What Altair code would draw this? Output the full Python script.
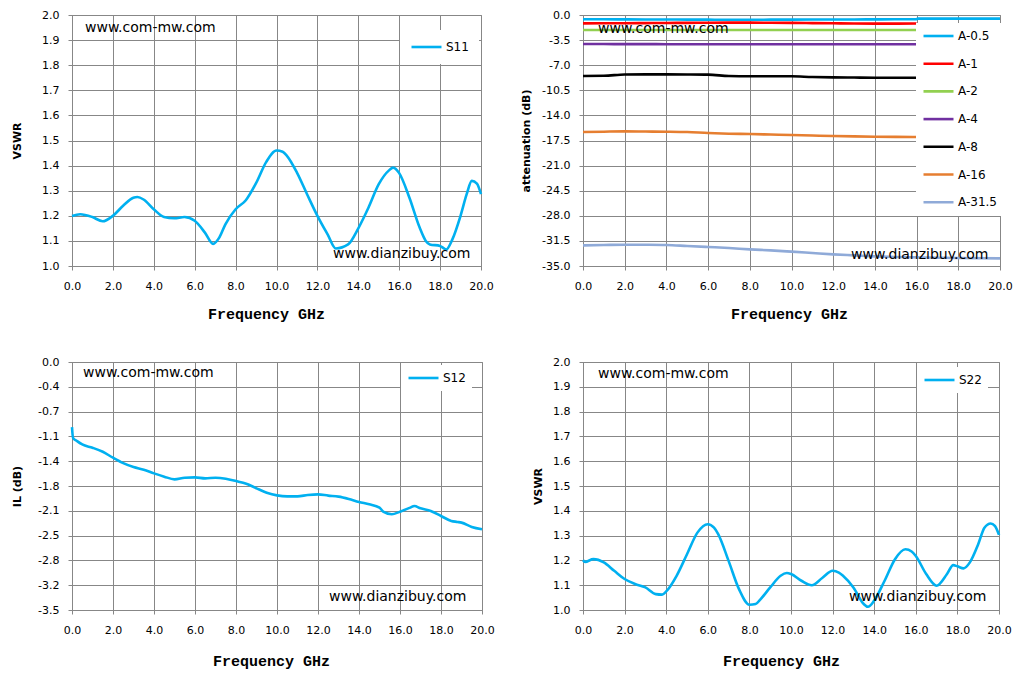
import json
import altair as alt
import pandas as pd

# ---------------- data ----------------
X_TICKS = [0, 2, 4, 6, 8, 10, 12, 14, 16, 18, 20]
VSWR_TICKS = [1.0, 1.1, 1.2, 1.3, 1.4, 1.5, 1.6, 1.7, 1.8, 1.9, 2.0]
ATT_TICKS = [0.0, -3.5, -7.0, -10.5, -14.0, -17.5, -21.0, -24.5, -28.0, -31.5, -35.0]
ATT_LABELS = ["0.0", "-3.5", "-7.0", "-10.5", "-14.0", "-17.5", "-21.0", "-24.5", "-28.0", "-31.5", "-35.0"]
IL_TICKS = [0.0, -0.35, -0.7, -1.05, -1.4, -1.75, -2.1, -2.45, -2.8, -3.15, -3.5]
IL_LABELS = ["0.0", "-0.4", "-0.7", "-1.1", "-1.4", "-1.8", "-2.1", "-2.5", "-2.8", "-3.2", "-3.5"]
WATERMARKS = ["www.com-mw.com", "www.dianzibuy.com"]

S11_FREQ = [0.0, 0.4, 1.0, 1.5, 2.0, 2.5, 3.0, 3.2, 3.5, 4.0, 4.5, 5.0, 5.5, 6.0, 6.5, 6.9, 7.2,
            7.5, 8.0, 8.5, 9.0, 9.5, 10.0, 10.3, 10.5, 11.0, 11.5, 12.0, 12.5, 12.9, 13.5, 14.0,
            14.5, 15.0, 15.5, 15.7, 16.0, 16.5, 17.0, 17.3, 17.5, 18.0, 18.3, 18.6, 19.0, 19.3,
            19.55, 19.8, 20.0]
S11_VSWR = [1.199, 1.206, 1.195, 1.178, 1.200, 1.240, 1.272, 1.275, 1.265, 1.226, 1.195, 1.190,
            1.195, 1.180, 1.133, 1.088, 1.113, 1.166, 1.226, 1.262, 1.330, 1.415, 1.460, 1.455,
            1.440, 1.372, 1.285, 1.200, 1.126, 1.070, 1.086, 1.150, 1.233, 1.326, 1.381, 1.392,
            1.370, 1.272, 1.153, 1.100, 1.086, 1.080, 1.066, 1.106, 1.200, 1.286, 1.339, 1.328,
            1.286]

S12_FREQ = [0.0, 0.05, 0.25, 0.5, 1.0, 1.5, 2.0, 2.5, 3.0, 3.5, 4.0, 4.5, 5.0, 5.5, 6.0, 6.5,
            7.0, 7.5, 8.0, 8.5, 9.0, 9.5, 10.0, 10.5, 11.0, 11.5, 12.0, 12.5, 13.0, 13.5, 14.0,
            14.5, 15.0, 15.2, 15.6, 16.0, 16.5, 16.7, 17.0, 17.5, 18.0, 18.5, 18.8, 19.0, 19.5,
            20.0]
S12_IL = [-0.92, -1.07, -1.117, -1.164, -1.21, -1.267, -1.351, -1.427, -1.483, -1.52, -1.572,
          -1.618, -1.656, -1.633, -1.628, -1.642, -1.633, -1.647, -1.68, -1.718, -1.783, -1.844,
          -1.882, -1.896, -1.896, -1.877, -1.868, -1.886, -1.90, -1.933, -1.976, -2.008, -2.055,
          -2.116, -2.149, -2.112, -2.055, -2.032, -2.065, -2.102, -2.173, -2.243, -2.257,
          -2.267, -2.328, -2.36]

S22_FREQ = [0.0, 0.1, 0.5, 1.0, 1.5, 2.0, 2.5, 3.0, 3.5, 3.8, 4.0, 4.5, 5.0, 5.5, 6.0, 6.3, 6.5,
            7.0, 7.5, 8.0, 8.3, 8.5, 9.0, 9.5, 9.8, 10.0, 10.5, 11.0, 11.5, 12.0, 12.3, 12.5,
            13.0, 13.5, 13.7, 14.0, 14.5, 15.0, 15.5, 15.8, 16.0, 16.5, 17.0, 17.5, 17.8, 18.0,
            18.3, 18.6, 19.0, 19.3, 19.6, 19.8, 20.0]
S22_VSWR = [1.201, 1.194, 1.205, 1.192, 1.158, 1.125, 1.105, 1.091, 1.064, 1.062, 1.075, 1.138,
            1.225, 1.312, 1.346, 1.332, 1.306, 1.198, 1.084, 1.021, 1.024, 1.040, 1.091, 1.138,
            1.149, 1.145, 1.118, 1.100, 1.129, 1.158, 1.151, 1.138, 1.091, 1.024, 1.013, 1.038,
            1.118, 1.205, 1.245, 1.236, 1.218, 1.145, 1.098, 1.145, 1.181, 1.176, 1.168, 1.192,
            1.265, 1.332, 1.349, 1.339, 1.303]

ATT_SERIES = ["A-0.5", "A-1", "A-2", "A-4", "A-8", "A-16", "A-31.5"]
ATT_COLORS = ["#00B0F0", "#FF0000", "#92D050", "#7030A0", "#000000", "#E67E30", "#8FAAD8"]
ATT_FREQ = [0, 1, 2, 3, 4, 5, 6, 7, 8, 9, 10, 11, 12, 13, 14, 15, 16]
A05_FREQ = ATT_FREQ + [16.05, 20]
A05_DB = [-0.60, -0.60, -0.61, -0.62, -0.63, -0.64, -0.65, -0.66, -0.66, -0.65, -0.64, -0.63,
          -0.62, -0.62, -0.61, -0.60, -0.60, -0.50, -0.50]
A1_DB = [-1.17, -1.16, -1.15, -1.13, -1.11, -1.10, -1.08, -1.07, -1.07, -1.08, -1.10, -1.13,
         -1.16, -1.19, -1.20, -1.20, -1.19]
A2_DB = [-2.10, -2.10, -2.10, -2.10, -2.10, -2.10, -2.10, -2.10, -2.10, -2.10, -2.10, -2.10,
         -2.10, -2.10, -2.10, -2.10, -2.10]
A4_DB = [-4.05, -4.05, -4.06, -4.06, -4.07, -4.07, -4.07, -4.07, -4.07, -4.07, -4.08, -4.08,
         -4.08, -4.08, -4.08, -4.08, -4.08]
A8_DB = [-8.50, -8.48, -8.30, -8.28, -8.28, -8.29, -8.32, -8.50, -8.55, -8.55, -8.55, -8.65,
         -8.70, -8.72, -8.74, -8.75, -8.75]
A16_DB = [-16.32, -16.27, -16.23, -16.25, -16.27, -16.32, -16.46, -16.55, -16.60, -16.67,
          -16.74, -16.81, -16.88, -16.93, -16.97, -17.00, -17.02]
A315_FREQ = ATT_FREQ + [18, 20]
A315_DB = [-32.12, -32.07, -32.03, -32.04, -32.07, -32.21, -32.35, -32.49, -32.68, -32.82,
           -33.00, -33.19, -33.38, -33.52, -33.66, -33.75, -33.80, -33.89, -33.94]

# ---------------- styling ----------------
CYAN = "#00B0F0"
GRID = "#878787"
LINE_W = 2.6


def frame(freqs, values, name):
    return pd.DataFrame({"f": freqs, "v": values, "series": [name] * len(freqs)})


def x_axis(title_x, title_y):
    return alt.Axis(values=X_TICKS, format=".1f", title="Frequency GHz",
                    titleFont="Liberation Mono", titleFontSize=15, titleFontWeight="bold",
                    titleX=title_x, titleY=title_y, titleAlign="center", titleBaseline="middle",
                    labelFlush=False, labelPadding=10, tickSize=4)


def y_axis(title, title_x, values, labels=None):
    kw = dict(values=values, title=title, titleX=title_x, titleAlign="center",
              titleBaseline="middle", titleFont="DejaVu Sans", titleFontSize=11,
              titleFontWeight="bold", tickSize=4, labelPadding=9)
    if labels is None:
        kw["format"] = ".1f"
    else:
        kw["labelExpr"] = json.dumps(labels) + "[round(abs(datum.value) / " + str(abs(values[1])) + ")]"
    return alt.Axis(**kw)


def legend(lx, ly, row_pad=0, pad=6):
    return alt.Legend(orient="none", legendX=lx, legendY=ly, title=None, symbolType="stroke",
                      symbolSize=900, symbolStrokeWidth=LINE_W, labelFont="DejaVu Sans",
                      labelFontSize=12, labelColor="black", fillColor="white", padding=pad,
                      clipHeight=14, rowPadding=row_pad, labelOffset=3)


def watermarks(p1, p2):
    out = []
    for text, (px, py) in zip(WATERMARKS, (p1, p2)):
        out.append(
            alt.Chart(pd.DataFrame({"t": [text]}))
            .mark_text(align="left", baseline="middle", font="DejaVu Sans", fontSize=14,
                       color="black")
            .encode(x=alt.value(px), y=alt.value(py), text="t:N")
        )
    return out


def single_panel(df, name, ydom, yax, leg, wm, w, h, xt):
    line = alt.Chart(df).mark_line(strokeWidth=LINE_W, interpolate="monotone").encode(
        x=alt.X("f:Q", scale=alt.Scale(domain=[0, 20], nice=False), axis=x_axis(*xt)),
        y=alt.Y("v:Q", scale=alt.Scale(domain=ydom, nice=False, zero=False), axis=yax),
        color=alt.Color("series:N", scale=alt.Scale(domain=[name], range=[CYAN]), legend=leg),
    )
    return alt.layer(line, *watermarks(*wm)).properties(width=w, height=h)


p1 = single_panel(frame(S11_FREQ, S11_VSWR, "S11"), "S11", [1.0, 2.0],
                  y_axis("VSWR", -55, VSWR_TICKS), legend(328, 15, pad=10),
                  ((13, 13), (261, 239)), 409, 251, (194, 47))

att_df = pd.concat([
    frame(A05_FREQ, A05_DB, "A-0.5"),
    frame(ATT_FREQ, A1_DB, "A-1"),
    frame(ATT_FREQ, A2_DB, "A-2"),
    frame(ATT_FREQ, A4_DB, "A-4"),
    frame(ATT_FREQ, A8_DB, "A-8"),
    frame(ATT_FREQ, A16_DB, "A-16"),
    frame(A315_FREQ, A315_DB, "A-31.5"),
], ignore_index=True)

att_line = alt.Chart(att_df).mark_line(strokeWidth=LINE_W, interpolate="monotone").encode(
    x=alt.X("f:Q", scale=alt.Scale(domain=[0, 20], nice=False), axis=x_axis(206, 47)),
    y=alt.Y("v:Q", scale=alt.Scale(domain=[-35, 0], nice=False, zero=False),
            axis=y_axis("attenuation (dB)", -57, ATT_TICKS, ATT_LABELS)),
    color=alt.Color("series:N", scale=alt.Scale(domain=ATT_SERIES, range=ATT_COLORS),
                    sort=ATT_SERIES, legend=legend(333, 8, 13.7)),
    detail="series:N",
)
p2 = alt.layer(att_line, *watermarks((15, 14), (268, 240))).properties(width=417, height=251)

p3 = single_panel(frame(S12_FREQ, S12_IL, "S12"), "S12", [-3.5, 0.0],
                  y_axis("IL (dB)", -55, IL_TICKS, IL_LABELS), legend(329, 3),
                  ((11, 11), (257, 235)), 410, 248, (199, 50))

p4 = single_panel(frame(S22_FREQ, S22_VSWR, "S22"), "S22", [1.0, 2.0],
                  y_axis("VSWR", -45, VSWR_TICKS), legend(334, 5),
                  ((15, 12), (266, 235)), 416, 248, (198, 50))

chart = (
    alt.concat(p1, p2, p3, p4, columns=2, spacing={"row": 96, "column": 101}, bounds="flush")
    .resolve_scale(color="independent")
    .resolve_legend(color="independent")
    .properties(padding={"left": 2, "top": 0, "right": 0, "bottom": 0}, background="white")
    .configure_view(stroke=GRID, strokeWidth=1)
    .configure_axis(gridColor=GRID, gridWidth=1, domainColor=GRID, domainWidth=1,
                    tickColor=GRID, tickWidth=1, labelFont="DejaVu Sans", labelFontSize=11,
                    labelColor="black", titleColor="black", grid=True)
)

chart.save("out.html", embed_options={"renderer": "svg", "actions": False})
